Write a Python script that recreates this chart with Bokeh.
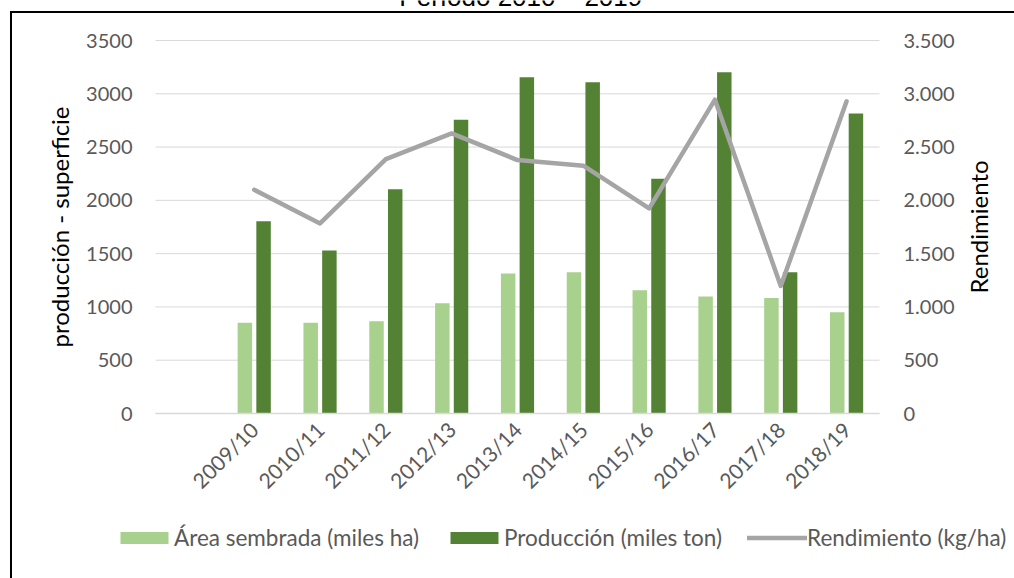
import math
from bokeh.plotting import figure
from bokeh.models import (Range1d, LinearAxis, FixedTicker, ColumnDataSource,
                          Legend, LegendItem, Label)
from bokeh.transform import dodge
from bokeh.embed import file_html
from bokeh.resources import INLINE

# ---- data ----
seasons = ["2009/10", "2010/11", "2011/12", "2012/13", "2013/14",
           "2014/15", "2015/16", "2016/17", "2017/18", "2018/19"]
area = [852, 852, 865, 1034, 1313, 1325, 1156, 1097, 1084, 949]            # miles ha
produccion = [1805, 1529, 2105, 2757, 3155, 3108, 2202, 3202, 1325, 2816]  # miles ton
rendimiento = [2099, 1783, 2387, 2628, 2378, 2325, 1924, 2945, 1197, 2929] # kg/ha
y_ticks = [0, 500, 1000, 1500, 2000, 2500, 3000, 3500]
left_labels = ["0", "500", "1000", "1500", "2000", "2500", "3000", "3500"]
right_labels = ["0", "500", "1.000", "1.500", "2.000", "2.500", "3.000", "3.500"]
title_text = "Período 2010 – 2019"
left_title = "producción - superficie"
right_title = "Rendimiento"

FONT = "Lato"
W, H = 1014, 578
# plot area (in page pixels) and the category slots: one empty slot before the data
PL, PR, PT, PB = 155, 879, 40, 413
n_slots = len(seasons) + 1
y_max = y_ticks[-1]
ppx = (PR - PL) / n_slots          # pixels per category slot
ppy = (PB - PT) / y_max            # pixels per unit

pos = [i + 1.5 for i in range(len(seasons))]   # slot centres (slot 0 is empty)

src = ColumnDataSource(dict(x=pos, season=seasons, area=area, produccion=produccion,
                            rendimiento=rendimiento))

x_range = Range1d(-PL / ppx, n_slots + (W - PR) / ppx)
y_range = Range1d(-(H - PB) / ppy, y_max + PT / ppy)

p = figure(width=W, height=H, x_range=x_range, y_range=y_range,
           output_backend="svg", toolbar_location=None, min_border=0)
p.min_border_left = p.min_border_right = p.min_border_top = p.min_border_bottom = 0
p.extra_y_ranges = {"right": Range1d(y_range.start, y_range.end)}
p.outline_line_color = None
p.background_fill_alpha = 0
p.border_fill_alpha = 0
# thin black frame lines (top and left) as in the reference screenshot
p.styles = {
    "background": ("linear-gradient(#000, #000) 10px 11px / 2px 100% no-repeat, "
                   "linear-gradient(#000, #000) 10px 11px / 100% 2px no-repeat"),
}

# grid lines limited to the plot area
p.xgrid.grid_line_color = None
p.ygrid.grid_line_color = None
p.segment(x0=[0] * len(y_ticks), x1=[n_slots] * len(y_ticks), y0=y_ticks, y1=y_ticks,
          line_color="#d9d9d9", line_width=1)

# left axis
ya = p.yaxis[0]
ya.fixed_location = 0
ya.bounds = (0, y_max)
ya.ticker = FixedTicker(ticks=y_ticks)
ya.major_label_overrides = {t: l for t, l in zip(y_ticks, left_labels)}
ya.axis_line_color = None
ya.major_tick_line_color = None
ya.minor_tick_line_color = None
ya.major_tick_out = 0
ya.major_tick_in = 0
ya.major_label_text_font = FONT
ya.major_label_text_font_size = "20px"
ya.major_label_text_color = "#595959"
ya.major_label_standoff = 23
ya.axis_label = left_title
ya.axis_label_text_font = FONT
ya.axis_label_text_font_size = "24px"
ya.axis_label_text_font_style = "normal"
ya.axis_label_text_color = "black"
ya.axis_label_standoff = 9

# right axis
ra = LinearAxis(y_range_name="right", ticker=FixedTicker(ticks=y_ticks),
                fixed_location=n_slots, bounds=(0, y_max))
ra.major_label_overrides = {t: l for t, l in zip(y_ticks, right_labels)}
ra.axis_line_color = None
ra.major_tick_line_color = None
ra.minor_tick_line_color = None
ra.major_tick_out = 0
ra.major_tick_in = 0
ra.major_label_text_font = FONT
ra.major_label_text_font_size = "20px"
ra.major_label_text_color = "#595959"
ra.major_label_standoff = 24
p.add_layout(ra, "right")

# right axis title, reading bottom-to-top and centred on the axis
p.add_layout(Label(x=n_slots + (978 - PR) / ppx, y=y_max / 2, y_range_name="right",
                   text=right_title, angle=math.pi / 2,
                   text_align="center", text_baseline="middle",
                   text_font=FONT, text_font_size="24px", text_color="black"))

# x axis
xa = p.xaxis[0]
xa.fixed_location = 0
xa.bounds = (0, n_slots)
xa.ticker = FixedTicker(ticks=pos)
xa.major_label_overrides = {x: s for x, s in zip(pos, seasons)}
xa.axis_line_color = "#d9d9d9"
xa.axis_line_width = 1.5
xa.major_tick_line_color = None
xa.minor_tick_line_color = None
xa.major_tick_out = 0
xa.major_tick_in = 0
xa.major_label_orientation = math.pi / 4
xa.major_label_text_font = FONT
xa.major_label_text_font_size = "21px"
xa.major_label_text_color = "#595959"
xa.major_label_standoff = 12

# glyphs
r1 = p.vbar(x=dodge("x", -0.142), top="area", width=0.22,
            source=src, fill_color="#A9D18E", line_color=None)
r2 = p.vbar(x=dodge("x", 0.142), top="produccion", width=0.22,
            source=src, fill_color="#548235", line_color=None)
r3 = p.line(x="x", y="rendimiento", source=src, y_range_name="right",
            line_color="#A5A5A5", line_width=4.5, line_cap="round", line_join="round")

legend = Legend(items=[LegendItem(label="Área sembrada (miles ha)", renderers=[r1]),
                       LegendItem(label="Producción (miles ton)", renderers=[r2]),
                       LegendItem(label="Rendimiento (kg/ha)", renderers=[r3])],
                location=(114, 27), orientation="horizontal",
                glyph_width=60, glyph_height=15, label_standoff=0, spacing=25,
                padding=0, margin=0, border_line_color=None,
                background_fill_alpha=0, label_text_font=FONT,
                label_text_font_size="22.5px", label_text_color="#595959",
                label_height=27)
p.add_layout(legend, "center")

# title, cut off at the top edge as in the reference
title = Label(x=5.55, y=(PB + 4) / ppy, text=title_text,
              text_align="center", text_baseline="alphabetic",
              text_font="Liberation Sans", text_font_size="26px", text_color="black")
p.add_layout(title)

open("out.html", "w").write(file_html(p, INLINE))
